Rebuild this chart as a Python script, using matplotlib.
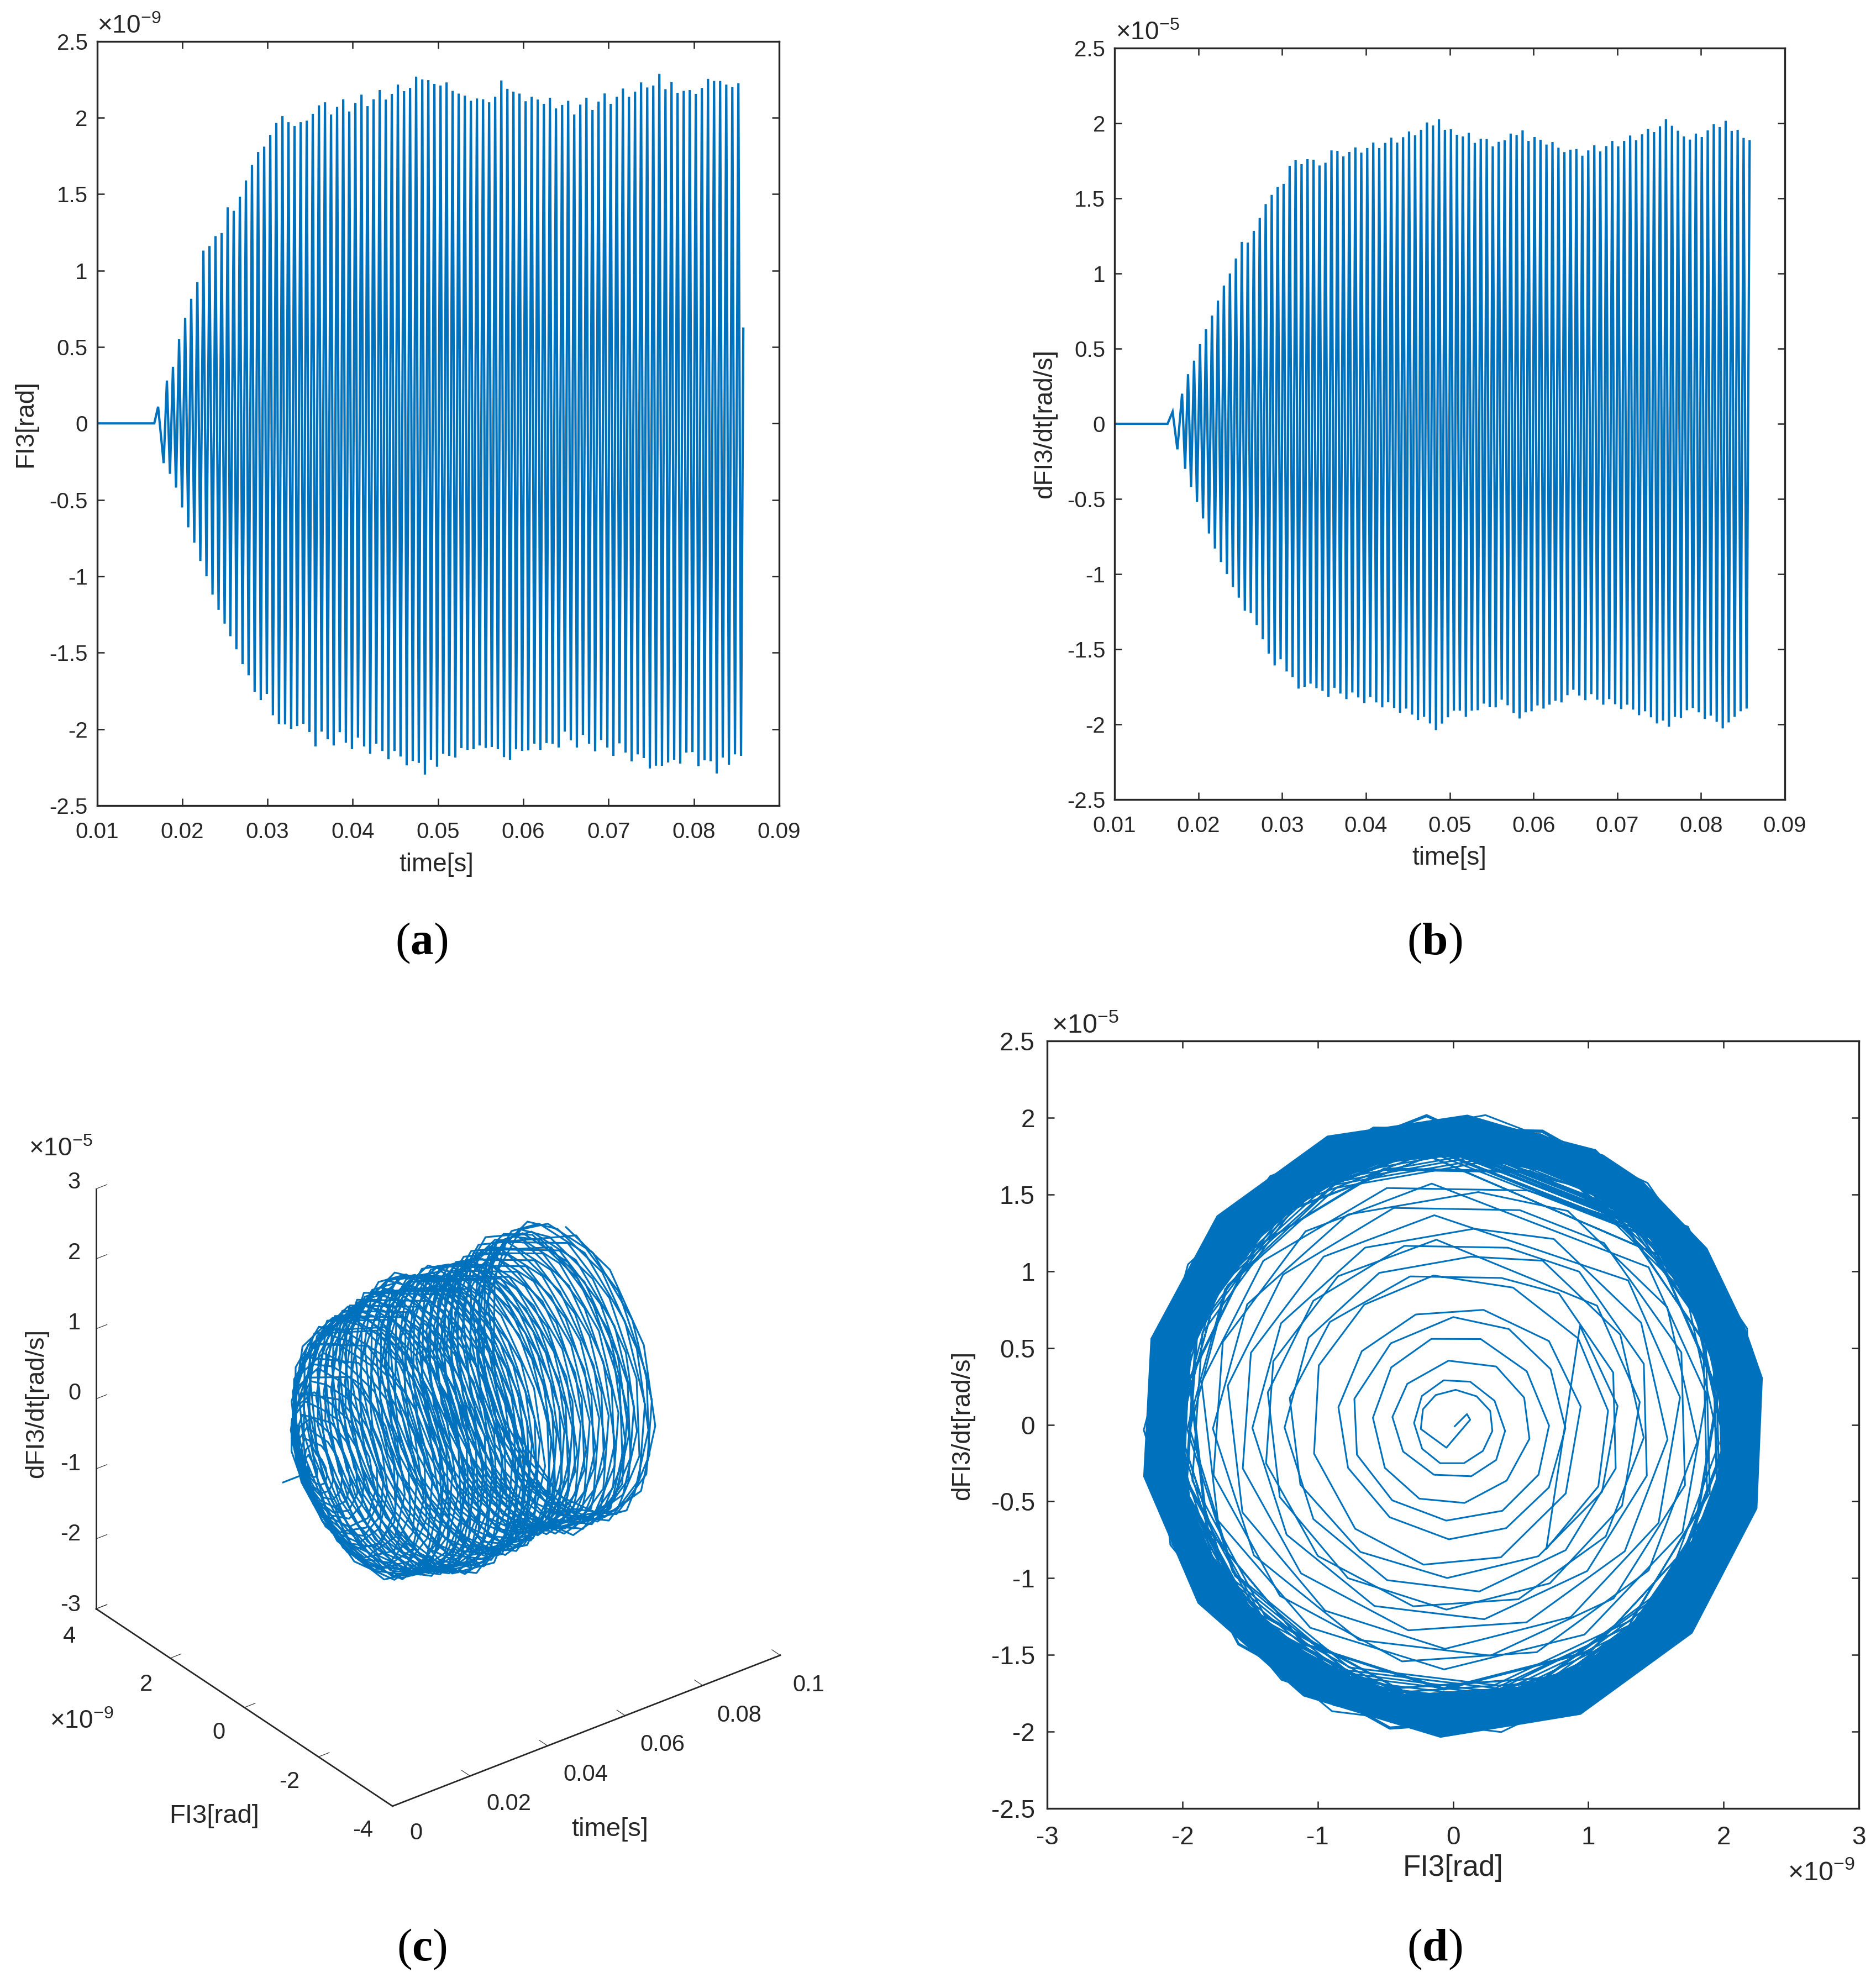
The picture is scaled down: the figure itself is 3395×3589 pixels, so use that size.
import numpy as np
import matplotlib
matplotlib.use('Agg')
import matplotlib.pyplot as plt

plt.rcParams['font.family'] = ['Liberation Sans', 'DejaVu Sans']
plt.rcParams['axes.unicode_minus'] = False
plt.rcParams['mathtext.fontset'] = 'custom'
plt.rcParams['mathtext.rm'] = 'Liberation Sans'
plt.rcParams['mathtext.bf'] = 'Liberation Serif:bold'

W, H = 3395, 3589
BLUE = '#0072BD'
DARK = '#262626'

# FI3 per-cycle extremes, in 1e-9 rad
t_peak_a = [0.01717,
    .0182, .01891, .01963, .02034, .02105, .02177, .02248, .02319, .0239, .02462,
    .02533, .02604, .02676, .02747, .02818, .0289, .02961, .03032, .03103, .03175,
    .03246, .03317, .03389, .0346, .03531, .03603, .03674, .03745, .03816, .03888,
    .03959, .0403, .04102, .04173, .04244, .04316, .04387, .04458, .04529, .04601,
    .04672, .04743, .04815, .04886, .04957, .05029, .051, .05171, .05242, .05314,
    .05385, .05456, .05528, .05599, .0567, .05742, .05813, .05884, .05955, .06027,
    .06098, .06169, .06241, .06312, .06383, .06455, .06526, .06597, .06668, .0674,
    .06811, .06882, .06954, .07025, .07096, .07168, .07239, .0731, .07381, .07453,
    .07524, .07595, .07667, .07738, .07809, .07881, .07952, .08023, .08094, .08166,
    .08237, .08308, .0838, .08451, .08522]
peak_a = [0.109,
    .28, .37, .55, .69, .815, .925, 1.13, 1.16, 1.225, 1.245,
    1.413, 1.39, 1.483, 1.589, 1.69, 1.775, 1.81, 1.887, 1.965, 2.01,
    1.97, 1.945, 1.97, 1.98, 2.025, 2.08, 2.10, 2.02, 2.07, 2.12,
    2.04, 2.096, 2.15, 2.075, 2.12, 2.18, 2.118, 2.155, 2.216, 2.173,
    2.194, 2.268, 2.25, 2.245, 2.22, 2.21, 2.23, 2.175, 2.157, 2.144,
    2.11, 2.125, 2.12, 2.10, 2.137, 2.243, 2.188, 2.17, 2.157, 2.107,
    2.137, 2.118, 2.09, 2.13, 2.06, 2.083, 2.11, 2.02, 2.085, 2.13,
    2.05, 2.105, 2.158, 2.09, 2.137, 2.19, 2.137, 2.17, 2.23, 2.197,
    2.21, 2.286, 2.186, 2.234, 2.162, 2.175, 2.18, 2.155, 2.194, 2.253,
    2.24, 2.24, 2.216, 2.2, 2.225]
t_trough_a = [.01782,
    .01856, .01927, .01998, .0207, .02141, .02212, .02284, .02355, .02426, .02497,
    .02564, .02635, .02707, .02778, .02849, .02921, .02992, .03063, .03134, .03206,
    .03277, .03348, .0342, .03491, .03562, .03634, .03705, .03776, .03847, .03919,
    .0399, .04061, .04133, .04204, .04275, .04347, .04418, .04489, .0456, .04632,
    .04703, .04774, .04846, .04917, .04988, .0506, .05131, .05202, .05273, .05345,
    .05416, .05487, .05559, .0563, .05701, .05773, .05844, .05915, .05986, .06058,
    .06129, .062, .06272, .06343, .06414, .06486, .06557, .06628, .06699, .06771,
    .06842, .06913, .06985, .07056, .07127, .07199, .0727, .07341, .07412, .07484,
    .07555, .07626, .07698, .07769, .0784, .07912, .07983, .08054, .08125, .08197,
    .08268, .08339, .08411, .08482, .08553]
trough_a = [-.26,
    -.33, -.42, -.55, -.68, -.78, -.9, -1.0, -1.12, -1.22, -1.31,
    -1.392, -1.478, -1.575, -1.648, -1.756, -1.81, -1.77, -1.909, -1.966, -1.969,
    -1.998, -1.98, -1.965, -2.019, -2.113, -2.016, -2.066, -2.107, -2.02, -2.089,
    -2.131, -2.055, -2.113, -2.161, -2.095, -2.143, -2.197, -2.143, -2.179, -2.237,
    -2.208, -2.221, -2.297, -2.2, -2.246, -2.161, -2.175, -2.186, -2.124, -2.135,
    -2.131, -2.107, -2.123, -2.117, -2.131, -2.183, -2.2, -2.132, -2.142, -2.139,
    -2.095, -2.135, -2.091, -2.095, -2.12, -2.016, -2.073, -2.12, -2.038, -2.095,
    -2.145, -2.071, -2.12, -2.175, -2.093, -2.153, -2.211, -2.165, -2.189, -2.257,
    -2.239, -2.24, -2.218, -2.2, -2.225, -2.153, -2.15, -2.242, -2.204, -2.21,
    -2.29, -2.186, -2.233, -2.165, -2.175]
t_ends_a = [0.01, 0.01672, 0.0858]
v_ends_a = [0.0, 0.0, 0.62]

# dFI3/dt per-cycle extremes, in 1e-5 rad/s
t_peak_b = [0.01693,
    .01806, .01877, .01949, .0202, .02091, .02163, .02234, .02305, .02377, .02448,
    .02519, .0259, .02662, .02733, .02804, .02876, .02947, .03018, .0309, .03161,
    .03232, .03303, .03375, .03446, .03517, .03589, .0366, .03731, .03802, .03874,
    .03945, .04016, .04088, .04159, .0423, .04302, .04373, .04444, .04515, .04587,
    .04658, .04729, .04801, .04872, .04943, .05015, .05086, .05157, .05228, .053,
    .05371, .05442, .05514, .05585, .05656, .05728, .05799, .0587, .05941, .06013,
    .06084, .06155, .06227, .06298, .06369, .06441, .06512, .06583, .06654, .06726,
    .06797, .06868, .0694, .07011, .07082, .07154, .07225, .07296, .07367, .07439,
    .0751, .07581, .07653, .07724, .07795, .07867, .07938, .08009, .0808, .08152,
    .08223, .08294, .08366, .08437, .08508, .0858]
peak_b = [0.08,
    .2, .33, .42, .53, .63, .72, .82, .92, 1.0, 1.1,
    1.21, 1.206, 1.283, 1.37, 1.462, 1.523, 1.577, 1.596, 1.717, 1.754,
    1.728, 1.761, 1.756, 1.719, 1.737, 1.819, 1.816, 1.779, 1.809, 1.839,
    1.804, 1.835, 1.871, 1.835, 1.869, 1.904, 1.871, 1.907, 1.945, 1.92,
    1.956, 2.005, 1.985, 2.026, 1.956, 1.96, 1.923, 1.912, 1.936, 1.869,
    1.897, 1.895, 1.846, 1.876, 1.886, 1.931, 1.922, 1.952, 1.882, 1.908,
    1.89, 1.858, 1.875, 1.837, 1.808, 1.824, 1.828, 1.784, 1.819, 1.853,
    1.812, 1.848, 1.882, 1.846, 1.882, 1.918, 1.887, 1.926, 1.963, 1.941,
    1.98, 2.027, 1.983, 1.95, 1.912, 1.891, 1.931, 1.908, 1.952, 1.994,
    1.974, 2.016, 1.949, 1.956, 1.902, 1.88]
t_trough_b = [.0175, .01842, .01913, .01984, .02056, .02127, .02198, .0227, .02341,
    .02412, .02483, .02555, .02626, .02697, .02769, .0284, .02911, .02982, .03054,
    .03125, .03196, .03268, .03339, .0341, .03482, .03553, .03624, .03695, .03767,
    .03838, .03909, .03981, .04052, .04123, .04195, .04266, .04337, .04408, .0448,
    .04551, .04622, .04694, .04765, .04836, .04908, .04979, .0505, .05121, .05193,
    .05264, .05335, .05407, .05478, .05549, .05621, .05692, .05763, .05834, .05906,
    .05977, .06048, .0612, .06191, .06262, .06334, .06405, .06476, .06547, .06619,
    .0669, .06761, .06833, .06904, .06975, .07047, .07118, .07189, .0726, .07332,
    .07403, .07474, .07546, .07617, .07688, .0776, .07831, .07902, .07973, .08045,
    .08116, .08187, .08259, .0833, .08401, .08473, .08544]
trough_b = [-.17, -.3, -.42, -.52, -.63, -.73, -.83, -.92, -1.0,
    -1.086, -1.157, -1.244, -1.259, -1.339, -1.434, -1.529, -1.608, -1.567, -1.648,
    -1.685, -1.762, -1.75, -1.729, -1.759, -1.777, -1.817, -1.757, -1.795, -1.832,
    -1.788, -1.821, -1.858, -1.817, -1.854, -1.887, -1.853, -1.891, -1.923, -1.895,
    -1.935, -1.971, -1.95, -1.994, -2.038, -1.995, -1.953, -1.909, -1.909, -1.95,
    -1.909, -1.906, -1.862, -1.886, -1.887, -1.836, -1.873, -1.924, -1.961, -1.92,
    -1.913, -1.874, -1.895, -1.869, -1.843, -1.854, -1.806, -1.77, -1.808, -1.839,
    -1.799, -1.836, -1.869, -1.832, -1.866, -1.898, -1.869, -1.902, -1.939, -1.913,
    -1.953, -1.994, -1.975, -2.016, -1.95, -1.958, -1.906, -1.891, -1.92, -1.964,
    -1.942, -1.983, -2.027, -1.987, -1.95, -1.913, -1.895]
t_ends_b = [0.01, 0.01633]
v_ends_b = [0.0, 0.0]

# inner part of the phase spiral, vertices
spiral_fi = [.013, .103, .127, -.049, -.238, -.222, -.128, .020, .174, .275, .291, .221, .081,
    -.095, -.228, -.288, -.230, -.069, .127, .307, .385, .319, .135, -.141, -.369, -.448, -.338,
    -.033, .319, .526, .565, .397, .085, -.249, -.504, -.592, -.457, -.160, .205, .545, .710,
    .632, .365, -.050, -.449, -.710, -.729, -.460, .002, .413, .721, .831, .709, .393, -.030,
    -.468, -.776, -.847, -.674, -.275, .225, .709, .944, .833, .354, -.218, -.723, -1.027,
    -.992, -.656, -.144, .444, .925, 1.146, 1.074, .690]
spiral_dfi = [-.010, .069, .032, -.150, -.028, .101, .193, .227, .185, .090, -.041, -.171, -.251,
    -.251, -.157, .011, .187, .289, .280, .156, -.041, -.230, -.336, -.326, -.175, .050, .266,
    .417, .379, .176, -.092, -.364, -.510, -.482, -.281, .045, .373, .559, .558, .348, -.006,
    -.326, -.561, -.625, -.493, -.196, .169, .530, .701, .623, .362, -.023, -.409, -.674, -.747,
    -.603, -.281, .114, .479, .718, .748, .545, .118, -.448, -.864, -.912, -.678, -.189,
    .386, .782, .972, .893, .562, .091, -.402, -.809]

# outline of the dense ring in panel (d)
ring_out_fi = [.106, 1.11, 1.40, 1.88, 2.16, 2.29, 2.25, 1.77, .944, -.093, -1.107, -1.888, -2.29, -2.236, -1.747, -.93]
ring_out_dfi = [2.02, 1.76, 1.59, 1.15, .635, .305, -.547, -1.36, -1.89, -2.04, -1.77, -1.164, -.338, .562, 1.362, 1.883]
ring_in_fi = [0, .657, 1.10, 1.45, 1.76, 1.96, 1.98, 1.89, 1.63, 1.34, .966, .437, -.05, -.446, -.975,
    -1.416, -1.769, -1.99, -1.967, -1.945, -1.725, -1.416, -.975, -.534]
ring_in_dfi = [1.755, 1.663, 1.46, 1.22, .745, .305, -.283, -.613, -.907, -1.274, -1.567, -1.725, -1.751,
    -1.751, -1.567, -1.274, -.87, -.43, -.026, .45, .855, 1.222, 1.553, 1.70]

# outline of one turn of the trajectory (unit amplitude), three turns with the samples in different places
loop_fi = [[.766, .993, .899, .515, -.035, -.559, -.921, -.985, -.743, -.259, .292],
           [.629, .951, .966, .669, .156, -.391, -.829, -1.0, -.857, -.438, .105],
           [.469, .875, .998, .799, .342, -.208, -.707, -.978, -.94, -.602, -.087]]
loop_dfi = [[.643, .122, -.438, -.857, -.999, -.829, -.391, .174, .669, .966, .956],
            [.777, .309, -.259, -.743, -.988, -.921, -.559, -.017, .515, .899, .995],
            [.883, .485, -.07, -.602, -.94, -.978, -.707, -.208, .342, .799, .996]]
loop_step = [0, .09, .18, .27, .36, .45, .55, .64, .73, .82, .91]

time_ticks = [.01, .02, .03, .04, .05, .06, .07, .08, .09]
time_labels = ['0.01', '0.02', '0.03', '0.04', '0.05', '0.06', '0.07', '0.08', '0.09']
y_ticks = [-2.5, -2, -1.5, -1, -.5, 0, .5, 1, 1.5, 2, 2.5]
y_labels = ['-2.5', '-2', '-1.5', '-1', '-0.5', '0', '0.5', '1', '1.5', '2', '2.5']
fi_ticks_d = [-3, -2, -1, 0, 1, 2, 3]
fi_labels_d = ['-3', '-2', '-1', '0', '1', '2', '3']
t_ticks_c = [0, .02, .04, .06, .08, .1]
t_labels_c = ['0', '0.02', '0.04', '0.06', '0.08', '0.1']
fi_ticks_c = [-4, -2, 0, 2, 4]
fi_labels_c = ['-4', '-2', '0', '2', '4']
z_ticks_c = [-3, -2, -1, 0, 1, 2, 3]
z_labels_c = ['-3', '-2', '-1', '0', '1', '2', '3']


def zigzag(t_top, top, t_bot, bot, t_ends, v_ends):
    t = np.concatenate([t_top, t_bot, t_ends])
    v = np.concatenate([top, bot, v_ends])
    order = np.argsort(t)
    return t[order], v[order]


def axes_px(left, right, top, bottom):
    return fig.add_axes([left / W, 1 - bottom / H, (right - left) / W, (bottom - top) / H])


def text_px(x, y, s, **kwargs):
    kwargs.setdefault('ha', 'center')
    kwargs.setdefault('va', 'center')
    kwargs.setdefault('color', DARK)
    kwargs.setdefault('fontsize', 33)
    fig.text(x / W, 1 - y / H, s, **kwargs)


def box_axes(ax, size=29, xpad=21, ypad=12):
    for s in ax.spines.values():
        s.set_linewidth(2.4)
        s.set_color(DARK)
    ax.tick_params(direction='in', length=9.5, width=1.8, top=True, right=True,
                   color=DARK, labelcolor=DARK, labelsize=size)
    ax.tick_params(axis='x', pad=xpad)
    ax.tick_params(axis='y', pad=ypad)


fig = plt.figure(figsize=(W / 100, H / 100), dpi=100)

# (a)
ax = axes_px(175.5, 1410, 74.5, 1458)
t, v = zigzag(t_peak_a, peak_a, t_trough_a, trough_a, t_ends_a, v_ends_a)
ax.plot(t, v, color=BLUE, lw=3.0, solid_joinstyle='miter')
ax.set_xlim(.01, .09)
ax.set_ylim(-2.5, 2.5)
ax.set_xticks(time_ticks, time_labels)
ax.set_yticks(y_ticks, y_labels)
box_axes(ax)
text_px(790, 1565, 'time[s]')
text_px(46, 767, 'FI3[rad]', rotation=90)
text_px(176, 48, '×$\\mathregular{10^{-9}}$', ha='left')
text_px(763, 1707, '($\\mathbf{a}$)', family='Liberation Serif', fontsize=60, color='black')

# (b)
ax = axes_px(2017, 3230, 87, 1447)
t, v = zigzag(t_peak_b, peak_b, t_trough_b, trough_b, t_ends_b, v_ends_b)
ax.plot(t, v, color=BLUE, lw=3.0, solid_joinstyle='miter')
ax.set_xlim(.01, .09)
ax.set_ylim(-2.5, 2.5)
ax.set_xticks(time_ticks, time_labels)
ax.set_yticks(y_ticks, y_labels)
box_axes(ax)
text_px(2623, 1553, 'time[s]')
text_px(1891, 767, 'dFI3/dt[rad/s]', rotation=90)
text_px(2019, 60, '×$\\mathregular{10^{-5}}$', ha='left')
text_px(2596, 1707, '($\\mathbf{b}$)', family='Liberation Serif', fontsize=60, color='black')

# one polygon per measured cycle, used by (c) and (d)
loops_t, loops_fi, loops_dfi = [], [], []
for n in range(len(peak_a) - 1):
    k = n % 3
    loops_t.append(t_peak_a[n] + np.array(loop_step) * (t_peak_a[n + 1] - t_peak_a[n]))
    loops_fi.append(peak_a[n] * np.array(loop_fi[k]))
    loops_dfi.append(peak_b[n] * np.array(loop_dfi[k]))

# (c)
ax = fig.add_axes([22.7 / W, 1 - 3344 / H, 1500 / W, 1500 / H], projection='3d')
ax.patch.set_alpha(0)
ax.set_proj_type('ortho')
ax.view_init(elev=30.6, azim=-127.4)
ax.set_box_aspect((1, 1, 1), zoom=0.99)
ax.plot(np.concatenate([t_ends_a[:2]] + loops_t), np.concatenate([[0, 0]] + loops_fi),
        np.concatenate([[0, 0]] + loops_dfi), color=BLUE, lw=2.3)
ax.set_xlim(0, .1)
ax.set_ylim(-4, 4)
ax.set_zlim(-3, 3)
ax.set_xticks(t_ticks_c, [''] * len(t_ticks_c))
ax.set_yticks(fi_ticks_c, [''] * len(fi_ticks_c))
ax.set_zticks(z_ticks_c, [''] * len(z_ticks_c))
ax.grid(False)
for a in (ax.xaxis, ax.yaxis, ax.zaxis):
    a.pane.set_visible(False)
    a.line.set_color(DARK)
    a.line.set_linewidth(2.0)
    a._axinfo['tick']['inward_factor'] = 0.0
    a._axinfo['tick']['outward_factor'] = 0.35
ax.tick_params(color=DARK, width=1.8)
# tick labels of the 3d box, placed where the reference has them
for s, x, y in zip(t_labels_c, [753, 921, 1060, 1199, 1338, 1463], [3318, 3265, 3212, 3158, 3105, 3050]):
    text_px(x, y, s, fontsize=30)
for s, x, y in zip(fi_labels_c, [657, 524, 396, 264, 126], [3313, 3225, 3136, 3049, 2962]):
    text_px(x, y, s, fontsize=30)
for s, y in zip(z_labels_c, [2905, 2777, 2650, 2522, 2395, 2268, 2140]):
    text_px(146, y, s, ha='right', fontsize=30)
text_px(1104, 3311, 'time[s]', fontsize=34)
text_px(388, 3287, 'FI3[rad]', fontsize=34)
text_px(66, 2540, 'dFI3/dt[rad/s]', rotation=90)
text_px(52, 2080, '×$\\mathregular{10^{-5}}$', ha='left')
text_px(90, 3116, '×$\\mathregular{10^{-9}}$', ha='left')
text_px(763, 3528, '($\\mathbf{c}$)', family='Liberation Serif', fontsize=60, color='black')

# (d)
ax = axes_px(1895, 3364, 1884, 3273)
ax.fill(ring_out_fi + ring_out_fi[:1] + ring_in_fi[:1] + ring_in_fi[::-1],
        ring_out_dfi + ring_out_dfi[:1] + ring_in_dfi[:1] + ring_in_dfi[::-1],
        color=BLUE, lw=0)
first = 9
ax.plot(np.concatenate([spiral_fi] + loops_fi[first:]), np.concatenate([spiral_dfi] + loops_dfi[first:]),
        color=BLUE, lw=2.2)
ax.set_xlim(-3, 3)
ax.set_ylim(-2.5, 2.5)
ax.set_xticks(fi_ticks_d, fi_labels_d)
ax.set_yticks(y_ticks, y_labels)
box_axes(ax, 33, 22, 16)
text_px(2630, 3381, 'FI3[rad]', fontsize=38)
text_px(1742, 2580, 'dFI3/dt[rad/s]', rotation=90)
text_px(1903, 1857, '×$\\mathregular{10^{-5}}$', ha='left', fontsize=35)
text_px(3235, 3390, '×$\\mathregular{10^{-9}}$', ha='left', fontsize=35)
text_px(2596, 3528, '($\\mathbf{d}$)', family='Liberation Serif', fontsize=60, color='black')

fig.savefig('out.png', dpi=100)
